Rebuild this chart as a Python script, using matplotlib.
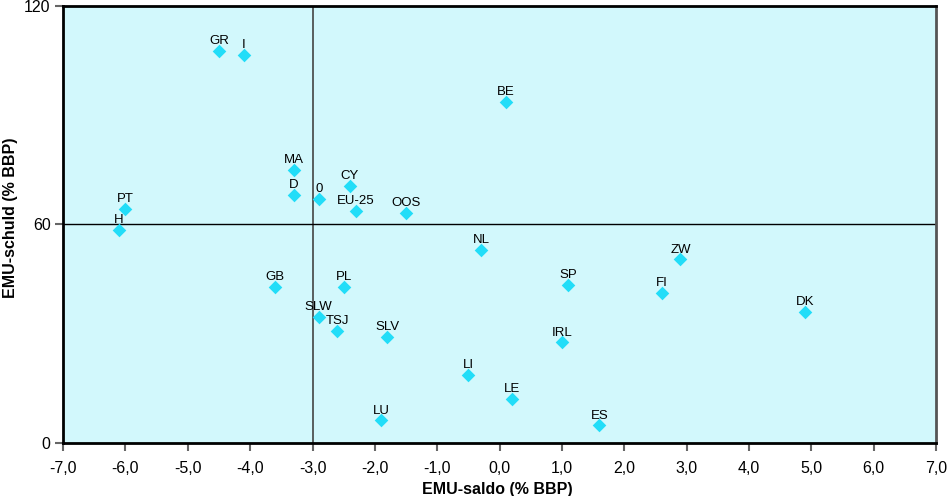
import matplotlib.pyplot as plt

# landen / groepen
labels = ['GR', 'I', 'BE', 'MA', 'CY', 'D', '0', 'PT', 'EU-25', 'OOS', 'H', 'NL', 'ZW',
          'SP', 'GB', 'PL', 'FI', 'DK', 'SLW', 'TSJ', 'SLV', 'IRL', 'LI', 'LE', 'LU', 'ES']
saldo = [-4.5, -4.1, 0.1, -3.3, -2.4, -3.3, -2.9, -6.0, -2.3, -1.5, -6.1, -0.3, 2.9,
         1.1, -3.6, -2.5, 2.6, 4.9, -2.9, -2.6, -1.8, 1.0, -0.5, 0.2, -1.9, 1.6]
schuld = [107.7, 106.6, 93.7, 75.0, 70.6, 68.1, 67.0, 64.3, 63.7, 63.2, 58.5, 53.0, 50.5,
          43.4, 42.9, 42.9, 41.2, 36.0, 34.6, 30.8, 29.1, 27.7, 18.7, 12.1, 6.3, 4.9]

xticks = [-7, -6, -5, -4, -3, -2, -1, 0, 1, 2, 3, 4, 5, 6, 7]
yticks = [0, 60, 120]

fig = plt.figure(figsize=(9.48, 4.96), dpi=100)
ax = fig.add_axes([0.0665, 0.107, 0.921, 0.881])
ax.set_facecolor('#d2f8fc')

ax.axvline(-3, color='#444444', lw=1.2, zorder=1)
ax.axhline(60, color='black', lw=1.0, zorder=1)

ax.scatter(saldo, schuld, marker='D', s=48, color='#22ddf8', zorder=3, linewidths=0)
for lab, x, y in zip(labels, saldo, schuld):
    ax.annotate(lab, (x, y), xytext=(0, 2.5), textcoords='offset points',
                ha='center', va='bottom', fontsize=9.5, family='Liberation Sans')

ax.set_xlim(-7, 7)
ax.set_ylim(0, 120)
ax.set_xticks(xticks)
ax.set_xticklabels([('%.1f' % t).replace('.', ',') for t in xticks])
ax.set_yticks(yticks)
ax.tick_params(direction='out', length=6, width=1.5, color='#666666', pad=7,
               labelsize=11.5, labelfontfamily='Liberation Sans')
ax.tick_params(axis='y', pad=3)
ax.spines['left'].set_linewidth(2)
ax.spines['bottom'].set_linewidth(2)
ax.spines['top'].set_linewidth(2)
ax.spines['right'].set_linewidth(2)
ax.spines['right'].set_color('#555555')

ax.set_xlabel('EMU-saldo (% BBP)', fontsize=11.5, fontweight='bold',
              family=['Liberation Sans Narrow', 'Liberation Sans'])
ax.xaxis.set_label_coords(0.497, -0.09)
ax.set_ylabel('EMU-schuld (% BBP)', fontsize=11.5, fontweight='bold',
              family=['Liberation Sans Narrow', 'Liberation Sans'])
ax.yaxis.set_label_coords(-0.052, 0.515)

fig.savefig('out.png', dpi=100)
